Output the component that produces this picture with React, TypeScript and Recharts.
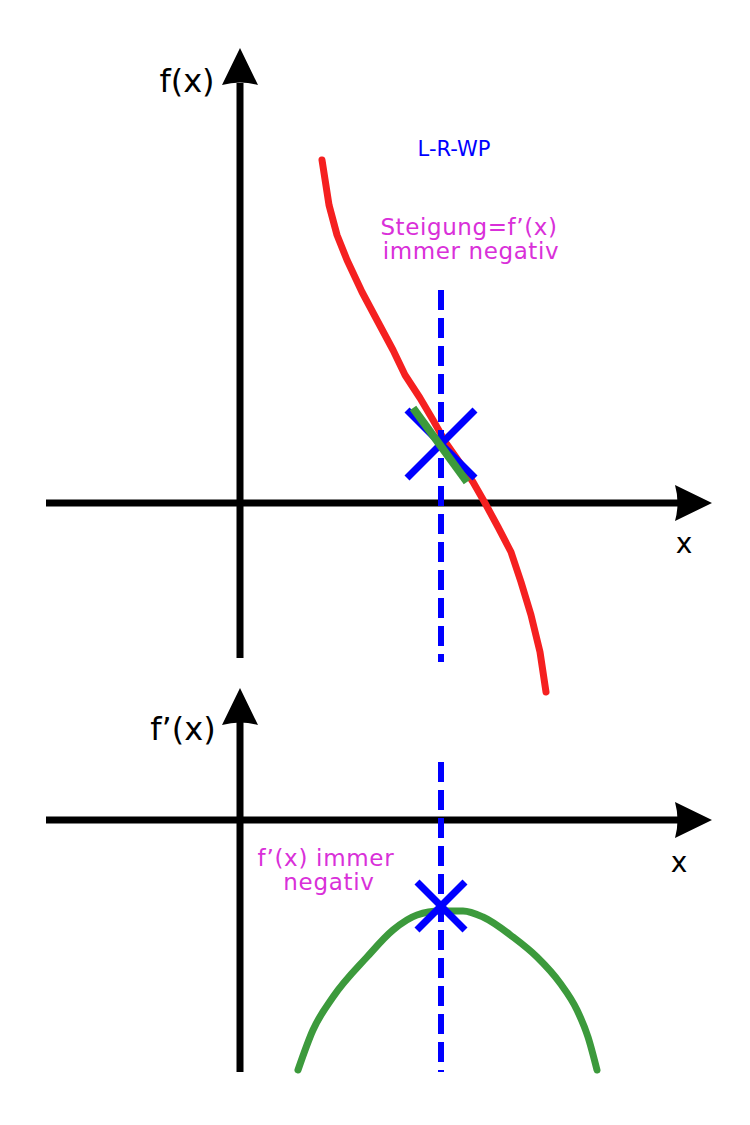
import React from "react";
import { ComposedChart, Line, XAxis, YAxis, ReferenceLine, Scatter } from "recharts";

// f(x): decreasing curve with a left-right inflection point (L-R-WP)
const fCurve = [
  { x: 0.82, y: 3.43 },
  { x: 0.89, y: 2.98 },
  { x: 0.97, y: 2.68 },
  { x: 1.07, y: 2.43 },
  { x: 1.22, y: 2.11 },
  { x: 1.38, y: 1.81 },
  { x: 1.53, y: 1.53 },
  { x: 1.65, y: 1.28 },
  { x: 1.8, y: 1.05 },
  { x: 1.93, y: 0.83 },
  { x: 2.06, y: 0.6 },
  { x: 2.2, y: 0.4 },
  { x: 2.33, y: 0.21 },
  { x: 2.45, y: 0.0 },
  { x: 2.58, y: -0.24 },
  { x: 2.71, y: -0.49 },
  { x: 2.81, y: -0.79 },
  { x: 2.91, y: -1.12 },
  { x: 3.0, y: -1.49 },
  { x: 3.06, y: -1.89 },
];

// tangent at the inflection point
const tangent = [
  { x: 1.73, y: 0.95 },
  { x: 2.27, y: 0.21 },
];

// f'(x): always negative, maximum at the inflection point
const fPrimeCurve = [
  { x: 0.58, y: -2.5 },
  { x: 0.73, y: -2.1 },
  { x: 0.93, y: -1.77 },
  { x: 1.27, y: -1.37 },
  { x: 1.53, y: -1.1 },
  { x: 1.77, y: -0.95 },
  { x: 2.0, y: -0.91 },
  { x: 2.23, y: -0.91 },
  { x: 2.43, y: -0.97 },
  { x: 2.73, y: -1.17 },
  { x: 2.97, y: -1.37 },
  { x: 3.2, y: -1.63 },
  { x: 3.37, y: -1.9 },
  { x: 3.48, y: -2.17 },
  { x: 3.57, y: -2.5 },
];

const wpX = 2.01;
const wpTopY = 0.59;
const wpBottomY = -0.86;
const crossTop = 0.34;
const crossBottom = 0.24;

// axis extents
const xAxisRange = [-1.94, 4.4];
const xArrowTip = 4.72;
const topYAxisRange = [-1.55, 4.2];
const topYArrowTip = 4.55;
const bottomYAxisRange = [-2.52, 0.98];
const bottomYArrowTip = 1.32;
const topDashRange = [2.13, -1.59];
const bottomDashRange = [0.58, -2.52];

const xDomain: [number, number] = [-2.4, 5.1];
const topYDomain: [number, number] = [-1.97, 5.03];
const bottomYDomain: [number, number] = [-3.05, 1.6];

const arrowShape = (props: any) => {
  const { cx, cy, payload } = props;
  if (cx == null || cy == null) return <g />;
  const L = 37;
  const W = 18;
  const n = 5;
  let d = "";
  if (payload.dir === "right") {
    d = `M${cx},${cy} L${cx - L},${cy - W} Q${cx - L + n},${cy} ${cx - L},${cy + W} Z`;
  } else {
    d = `M${cx},${cy} L${cx - W},${cy + L} Q${cx},${cy + L - n} ${cx + W},${cy + L} Z`;
  }
  return <path d={d} fill="#000" />;
};

const BLACK = "#000000";
const RED = "#f52020";
const BLUE = "#0000ff";
const GREEN = "#3c9a3c";
const MAGENTA = "#d930d9";
const FONT = "DejaVu Sans";

export default function App() {
  const topArrows = [
    { x: xArrowTip, y: 0, dir: "right" },
    { x: 0, y: topYArrowTip, dir: "up" },
  ];
  const bottomArrows = [
    { x: xArrowTip, y: 0, dir: "right" },
    { x: 0, y: bottomYArrowTip, dir: "up" },
  ];
  return (
    <div style={{ position: "absolute", left: 0, top: 0, width: 750, height: 1125, background: "#fff" }}>
      <div style={{ position: "absolute", left: 0, top: 0 }}>
        <ComposedChart width={750} height={700} margin={{ top: 0, right: 0, bottom: 0, left: 0 }}>
          <XAxis type="number" dataKey="x" domain={xDomain} allowDataOverflow hide />
          <YAxis type="number" dataKey="y" domain={topYDomain} allowDataOverflow hide />
          <ReferenceLine segment={[{ x: xAxisRange[0], y: 0 }, { x: xAxisRange[1], y: 0 }]} stroke={BLACK} strokeWidth={7} />
          <ReferenceLine segment={[{ x: 0, y: topYAxisRange[0] }, { x: 0, y: topYAxisRange[1] }]} stroke={BLACK} strokeWidth={7} />
          <Scatter data={topArrows} shape={arrowShape} isAnimationActive={false} />
          <Line data={fCurve} dataKey="y" type="linear" stroke={RED} strokeWidth={7} dot={false} activeDot={false} strokeLinecap="round" strokeLinejoin="round" isAnimationActive={false} />
          <ReferenceLine segment={[{ x: wpX, y: topDashRange[0] }, { x: wpX, y: topDashRange[1] }]} stroke={BLUE} strokeWidth={6} strokeDasharray="20 8" />
          <ReferenceLine segment={[{ x: wpX - crossTop, y: wpTopY + crossTop }, { x: wpX + crossTop, y: wpTopY - crossTop }]} stroke={BLUE} strokeWidth={7} />
          <ReferenceLine segment={[{ x: wpX - crossTop, y: wpTopY - crossTop }, { x: wpX + crossTop, y: wpTopY + crossTop }]} stroke={BLUE} strokeWidth={7} />
          <Line data={tangent} dataKey="y" type="linear" stroke={GREEN} strokeWidth={8} dot={false} activeDot={false} isAnimationActive={false} />
        </ComposedChart>
      </div>
      <div style={{ position: "absolute", left: 0, top: 660 }}>
        <ComposedChart width={750} height={465} margin={{ top: 0, right: 0, bottom: 0, left: 0 }}>
          <XAxis type="number" dataKey="x" domain={xDomain} allowDataOverflow hide />
          <YAxis type="number" dataKey="y" domain={bottomYDomain} allowDataOverflow hide />
          <ReferenceLine segment={[{ x: xAxisRange[0], y: 0 }, { x: xAxisRange[1], y: 0 }]} stroke={BLACK} strokeWidth={7} />
          <ReferenceLine segment={[{ x: 0, y: bottomYAxisRange[0] }, { x: 0, y: bottomYAxisRange[1] }]} stroke={BLACK} strokeWidth={7} />
          <Scatter data={bottomArrows} shape={arrowShape} isAnimationActive={false} />
          <Line data={fPrimeCurve} dataKey="y" type="monotone" stroke={GREEN} strokeWidth={7} dot={false} activeDot={false} strokeLinecap="round" strokeLinejoin="round" isAnimationActive={false} />
          <ReferenceLine segment={[{ x: wpX, y: bottomDashRange[0] }, { x: wpX, y: bottomDashRange[1] }]} stroke={BLUE} strokeWidth={6} strokeDasharray="20 8" />
          <ReferenceLine segment={[{ x: wpX - crossBottom, y: wpBottomY + crossBottom }, { x: wpX + crossBottom, y: wpBottomY - crossBottom }]} stroke={BLUE} strokeWidth={7} />
          <ReferenceLine segment={[{ x: wpX - crossBottom, y: wpBottomY - crossBottom }, { x: wpX + crossBottom, y: wpBottomY + crossBottom }]} stroke={BLUE} strokeWidth={7} />
        </ComposedChart>
      </div>
      <svg width={750} height={1125} style={{ position: "absolute", left: 0, top: 0, pointerEvents: "none" }}>
        <g fontFamily={FONT}>
          <text x={187} y={92} fontSize={32} textAnchor="middle" fill={BLACK}>f(x)</text>
          <text x={684} y={553} fontSize={28} textAnchor="middle" fill={BLACK}>x</text>
          <text x={454} y={156} fontSize={21} textAnchor="middle" fill={BLUE}>L-R-WP</text>
          <text x={469} y={235} fontSize={23} letterSpacing={0.6} textAnchor="middle" fill={MAGENTA}>Steigung=f’(x)</text>
          <text x={471} y={259} fontSize={23} letterSpacing={0.6} textAnchor="middle" fill={MAGENTA}>immer negativ</text>
          <text x={183} y={740} fontSize={32} textAnchor="middle" fill={BLACK}>f’(x)</text>
          <text x={679} y={872} fontSize={28} textAnchor="middle" fill={BLACK}>x</text>
          <text x={326} y={866} fontSize={23} letterSpacing={0.7} textAnchor="middle" fill={MAGENTA}>f’(x) immer</text>
          <text x={329} y={890} fontSize={23} letterSpacing={0.7} textAnchor="middle" fill={MAGENTA}>negativ</text>
        </g>
      </svg>
    </div>
  );
}
